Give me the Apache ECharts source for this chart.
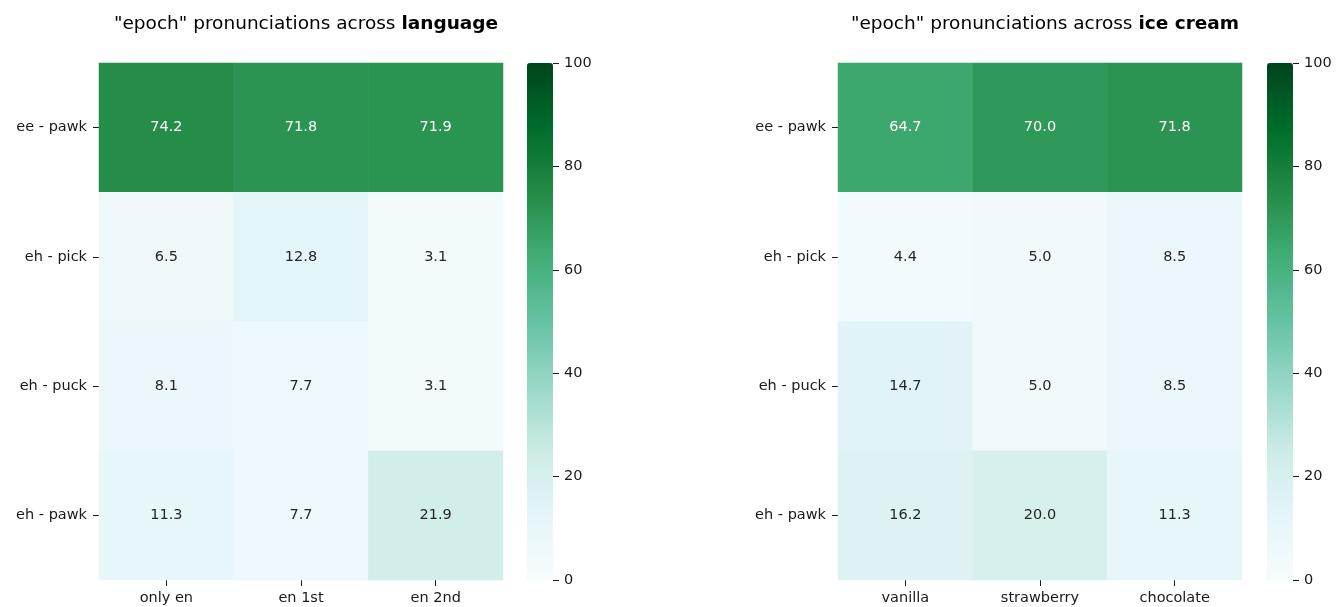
<!DOCTYPE html>
<html><head><meta charset="utf-8">
<script src="https://cdn.jsdelivr.net/npm/echarts@6/dist/echarts.min.js"></script>
<style>html,body{margin:0;padding:0;background:#fff}#c{width:1338px;height:607px}</style>
</head><body><div id="c"></div>
<script>
const rowLabels = ['ee - pawk', 'eh - pick', 'eh - puck', 'eh - pawk'];
const langCols = ['only en', 'en 1st', 'en 2nd'];
const iceCols = ['vanilla', 'strawberry', 'chocolate'];
const langValues = [
  [74.2, 71.8, 71.9],
  [6.5, 12.8, 3.1],
  [8.1, 7.7, 3.1],
  [11.3, 7.7, 21.9]
];
const iceValues = [
  [64.7, 70.0, 71.8],
  [4.4, 5.0, 8.5],
  [14.7, 5.0, 8.5],
  [16.2, 20.0, 11.3]
];
const colorTicks = [0, 20, 40, 60, 80, 100];
const BuGn = ['#f7fcfd', '#e5f5f9', '#ccece6', '#99d8c9', '#66c2a4', '#41ae76', '#238b45', '#006d2c', '#00441b'];
const FONT = 'DejaVu Sans';
const TXT = '#1a1a1a';

function toData(vals) {
  const out = [];
  vals.forEach((row, r) => row.forEach((v, c) => {
    out.push({ value: [c, r, v], label: { color: v > 50 ? '#ffffff' : '#262626' } });
  }));
  return out;
}

const panels = [
  { cols: langCols, vals: langValues, left: 99, cbLeft: 527, titleX: 301, bold: 'language' },
  { cols: iceCols, vals: iceValues, left: 838, cbLeft: 1267, titleX: 1040, bold: 'ice cream' }
];
const TOP = 63, H = 517, W = 404, CBW = 26;

const option = { backgroundColor: '#fff', animation: false, title: [], grid: [], xAxis: [], yAxis: [], series: [], visualMap: [] };
panels.forEach((p, i) => {
  option.title.push({
    left: p.titleX, top: 10, textAlign: 'center',
    text: '{n|"epoch" pronunciations across }{b|' + p.bold + '}',
    textStyle: { fontWeight: 'normal', rich: {
      n: { fontFamily: FONT, fontSize: 18.5, color: '#000', fontWeight: 'normal' },
      b: { fontFamily: FONT, fontSize: 18.5, color: '#000', fontWeight: 'bold' }
    } }
  });
  option.grid.push({ left: p.left, top: TOP, width: W, height: H, containLabel: false });
  option.grid.push({ left: p.cbLeft, top: TOP, width: CBW, height: H, containLabel: false });
  const g = i * 2;
  option.xAxis.push({
    type: 'category', gridIndex: g, data: p.cols, position: 'bottom',
    axisLine: { show: false }, splitLine: { show: false },
    axisTick: { show: true, alignWithLabel: true, length: 6, lineStyle: { color: TXT, width: 1 } },
    axisLabel: { fontFamily: FONT, fontSize: 14.5, color: TXT, margin: 11 }
  });
  option.yAxis.push({
    type: 'category', gridIndex: g, data: rowLabels, inverse: true,
    axisLine: { show: false }, splitLine: { show: false },
    axisTick: { show: true, alignWithLabel: true, length: 6, lineStyle: { color: TXT, width: 1 } },
    axisLabel: { fontFamily: FONT, fontSize: 14.5, color: TXT, margin: 12 }
  });
  option.xAxis.push({ type: 'value', gridIndex: g + 1, show: false, min: 0, max: 1 });
  option.yAxis.push({
    type: 'value', gridIndex: g + 1, position: 'right', min: 0, max: 100, interval: 20, z: 10,
    axisLine: { show: false, onZero: false }, splitLine: { show: false },
    axisTick: { show: true, inside: false, length: 6, lineStyle: { color: TXT, width: 1 } },
    axisLabel: { fontFamily: FONT, fontSize: 14.5, color: TXT, margin: 11 }
  });
  option.series.push({
    type: 'heatmap', xAxisIndex: g, yAxisIndex: g, data: toData(p.vals),
    label: { show: true, fontFamily: FONT, fontSize: 14.5, formatter: (d) => d.value[2].toFixed(1) },
    itemStyle: { borderWidth: 0 },
    emphasis: { disabled: true }
  });
  option.visualMap.push({
    type: 'continuous', min: 0, max: 100, seriesIndex: i, calculable: false,
    show: true, left: p.cbLeft, top: TOP, itemWidth: CBW, itemHeight: H, padding: 0,
    text: null, showLabel: false, hoverLink: false, realtime: false, z: 1,
    inRange: { color: BuGn }
  });
});
const chart = echarts.init(document.getElementById('c'), null, { renderer: 'canvas' });
chart.setOption(option);
</script></body></html>
